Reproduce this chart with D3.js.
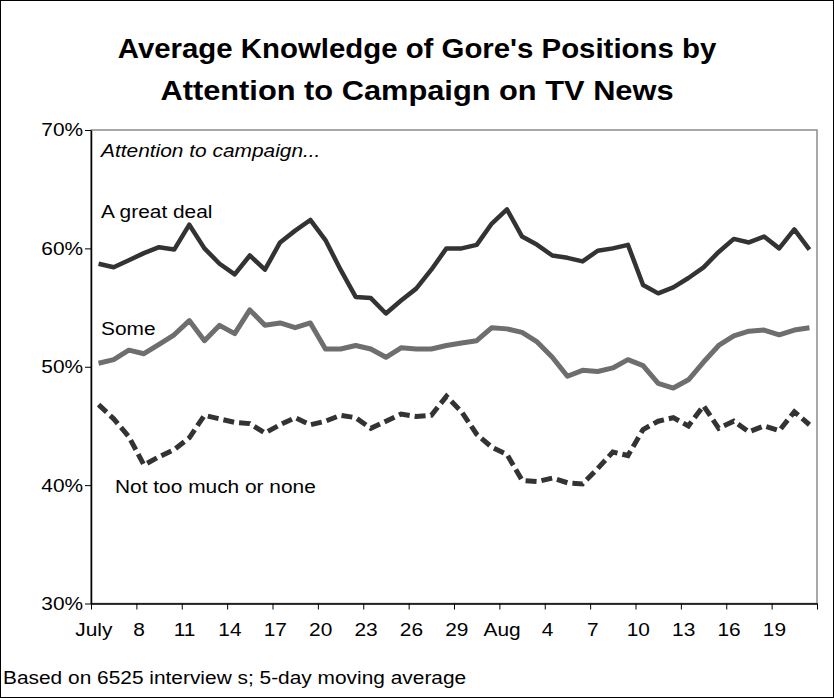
<!DOCTYPE html>
<html>
<head>
<meta charset="utf-8">
<script src="https://cdn.jsdelivr.net/npm/d3@7"></script>
<style>
  body { margin: 0; background: #fff; }
  text { font-family: "Liberation Sans", Arial, sans-serif; fill: #000; }
</style>
</head>
<body>
<script>
// Days in the series (5-day moving average, one point per day)
var days = ["Jul 5", "Jul 6", "Jul 7", "Jul 8", "Jul 9", "Jul 10", "Jul 11", "Jul 12",
    "Jul 13", "Jul 14", "Jul 15", "Jul 16", "Jul 17", "Jul 18", "Jul 19", "Jul 20",
    "Jul 21", "Jul 22", "Jul 23", "Jul 24", "Jul 25", "Jul 26", "Jul 27", "Jul 28",
    "Jul 29", "Jul 30", "Jul 31", "Aug 1", "Aug 2", "Aug 3", "Aug 4", "Aug 5",
    "Aug 6", "Aug 7", "Aug 8", "Aug 9", "Aug 10", "Aug 11", "Aug 12", "Aug 13",
    "Aug 14", "Aug 15", "Aug 16", "Aug 17", "Aug 18", "Aug 19", "Aug 20", "Aug 21"];

// one label every 3 days
var tickLabels = ["July", "8", "11", "14", "17", "20", "23", "26", "29", "Aug", "4", "7", "10", "13", "16", "19"];

var yTicks = [30, 40, 50, 60, 70];

// Attention to campaign... (percent)
var greatDeal = [58.7, 58.4, 59.0, 59.6, 60.1, 59.9, 62.0, 60.0, 58.7, 57.8,
    59.4, 58.2, 60.5, 61.5, 62.4, 60.7, 58.2, 55.9, 55.8, 54.5,
    55.6, 56.6, 58.2, 60.0, 60.0, 60.3, 62.1, 63.3, 61.0, 60.3,
    59.4, 59.2, 58.9, 59.8, 60.0, 60.3, 56.9, 56.2, 56.7, 57.5,
    58.4, 59.7, 60.8, 60.5, 61.0, 60.0, 61.6, 59.9];

var some = [50.3, 50.6, 51.4, 51.1, 51.9, 52.7, 53.9, 52.2, 53.5, 52.8,
    54.8, 53.5, 53.7, 53.3, 53.7, 51.5, 51.5, 51.8, 51.5, 50.8,
    51.6, 51.5, 51.5, 51.8, 52.0, 52.2, 53.3, 53.2, 52.9, 52.1,
    50.8, 49.2, 49.7, 49.6, 49.9, 50.6, 50.1, 48.6, 48.2, 48.9,
    50.4, 51.8, 52.6, 53.0, 53.1, 52.7, 53.1, 53.3];

var notMuch = [46.8, 45.6, 44.1, 41.7, 42.4, 43.0, 44.0, 45.9, 45.6, 45.3,
    45.2, 44.4, 45.1, 45.7, 45.1, 45.4, 45.9, 45.7, 44.8, 45.4,
    46.0, 45.8, 45.9, 47.5, 46.2, 44.3, 43.2, 42.6, 40.4, 40.3,
    40.6, 40.2, 40.1, 41.4, 42.8, 42.5, 44.7, 45.4, 45.7, 45.0,
    46.7, 44.8, 45.4, 44.5, 45.0, 44.6, 46.2, 45.1];

var width = 834, height = 698;
var plotLeft = 91, plotRight = 817, plotTop = 130, plotBottom = 603.5;
var stretch = "scale(1.13,1)"; // the reference text is a bit wide

var svg = d3.select("body").append("svg")
    .attr("width", width)
    .attr("height", height);

// outer frame
svg.append("rect")
    .attr("x", 0.5).attr("y", 0.5)
    .attr("width", width - 1).attr("height", height - 1)
    .attr("fill", "#fff")
    .attr("stroke", "#000");

// scales: linear over day slots so ticks fall between days
var x = d3.scaleLinear().domain([0, days.length]).range([plotLeft, plotRight]);
var y = d3.scaleLinear().domain([30, 70]).range([plotBottom, plotTop]);

// plot area border (grey)
svg.append("rect")
    .attr("x", plotLeft).attr("y", plotTop)
    .attr("width", plotRight - plotLeft).attr("height", plotBottom - plotTop)
    .attr("fill", "none")
    .attr("stroke", "#8c8c8c")
    .attr("stroke-width", 1.5);

// title
var title = svg.append("g").attr("transform", "translate(417,0)");
title.append("text")
    .attr("transform", "translate(0,58) scale(1.05,1)")
    .attr("text-anchor", "middle")
    .style("font-size", "28px")
    .style("font-weight", "bold")
    .text("Average Knowledge of Gore's Positions by");
title.append("text")
    .attr("transform", "translate(0,100) scale(1.1,1)")
    .attr("text-anchor", "middle")
    .style("font-size", "28px")
    .style("font-weight", "bold")
    .text("Attention to Campaign on TV News");

// y axis
var yAxis = svg.append("g")
    .attr("transform", "translate(" + plotLeft + ",0)")
    .call(d3.axisLeft(y)
        .tickValues(yTicks)
        .tickFormat(function (d) { return d + "%"; })
        .tickSize(6)
        .tickSizeOuter(0)
        .tickPadding(1));
yAxis.select(".domain").attr("stroke", "#000").attr("stroke-width", 1.5);
yAxis.selectAll("text")
    .style("font-size", "18.5px")
    .attr("transform", stretch);

// x axis
var xAxis = svg.append("g")
    .attr("transform", "translate(0," + plotBottom + ")")
    .call(d3.axisBottom(x)
        .tickValues(d3.range(0, days.length + 1, 3))
        .tickFormat(function (d) { return tickLabels[d / 3] || ""; })
        .tickSize(6)
        .tickSizeOuter(0)
        .tickPadding(13));
xAxis.select(".domain").attr("stroke", "#000").attr("stroke-width", 1.5);
xAxis.selectAll("text")
    .style("font-size", "18.5px")
    .attr("dx", 2)
    .attr("transform", stretch);

// lines
var line = d3.line()
    .x(function (d, i) { return x(i + 0.5); })
    .y(function (d) { return y(d); })
    .curve(d3.curveLinear);

svg.append("path")
    .datum(some)
    .attr("d", line)
    .attr("fill", "none")
    .attr("stroke", "#6e6e6e")
    .attr("stroke-width", 5)
    .attr("stroke-linejoin", "round");

svg.append("path")
    .datum(greatDeal)
    .attr("d", line)
    .attr("fill", "none")
    .attr("stroke", "#333")
    .attr("stroke-width", 4.5)
    .attr("stroke-linejoin", "round");

svg.append("path")
    .datum(notMuch)
    .attr("d", line)
    .attr("fill", "none")
    .attr("stroke", "#333")
    .attr("stroke-width", 5)
    .attr("stroke-dasharray", "11,5");

// series labels
function label(txt, px, py, italic) {
    svg.append("text")
        .attr("transform", "translate(" + px + "," + py + ") " + stretch)
        .style("font-size", "18.5px")
        .style("font-style", italic ? "italic" : "normal")
        .text(txt);
}
label("Attention to campaign...", 101, 157, true);
label("A great deal", 101, 218);
label("Some", 101, 335);
label("Not too much or none", 115, 493);

// footnote
label("Based on 6525 interview s; 5-day moving average", 3, 684);
</script>
</body>
</html>
